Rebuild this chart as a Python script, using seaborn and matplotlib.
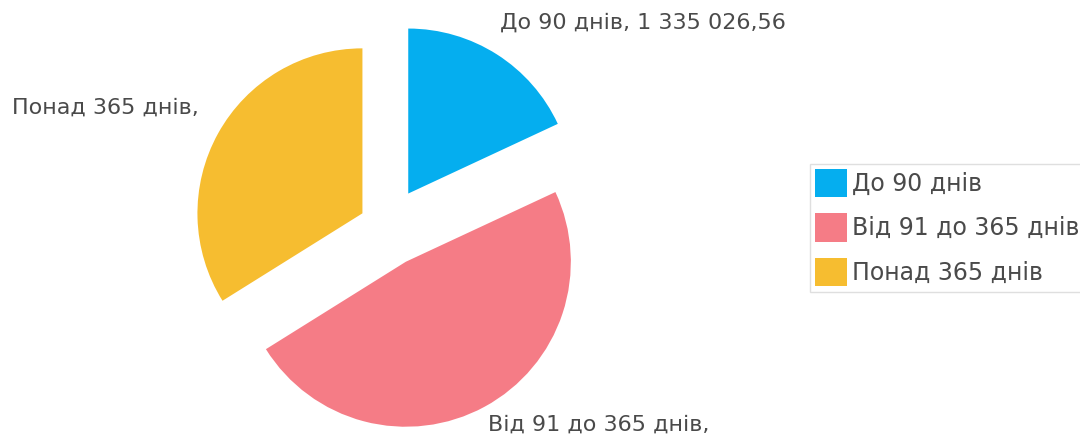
import numpy as np
import pandas as pd
import matplotlib
matplotlib.use("Agg")
import matplotlib.pyplot as plt
import seaborn as sb

# dados (só o primeiro aparece escrito)
categorias = ["До 90 днів", "Від 91 до 365 днів", "Понад 365 днів"]
valores = [1335026.56, 3552000.0, 2505000.0]
cores = ["#05AEEF", "#F57C86", "#F6BD30"]

sb.set_theme(style="white")
plt.rcParams['font.family'] = ['DejaVu Sans']

df = pd.DataFrame({'categoria': categorias, 'valor': valores})


def fmt(v):
    inteiro, dec = f"{v:,.2f}".split(".")
    return inteiro.replace(",", " ") + "," + dec


fig = plt.figure(figsize=(10.8, 4.41), dpi=100)
ax = fig.add_axes([0.1597, -0.001, 0.3972, 0.9728])

wedges, _ = ax.pie(df['valor'], colors=sb.color_palette(cores),
                   startangle=90, counterclock=False,
                   explode=[0.24, 0.24, 0.17],
                   wedgeprops=dict(linewidth=0))
ax.set_xlim(-1.3, 1.3)
ax.set_ylim(-1.3, 1.3)
ax.set_aspect('equal')
ax.axis('off')

cor_texto = "#4a4a4a"
# rótulos das fatias
fig.text(0.463, 0.948, f"{categorias[0]}, {fmt(valores[0])}",
         fontsize=16, color=cor_texto, va='center', ha='left')
fig.text(0.011, 0.757, f"{categorias[2]},",
         fontsize=16, color=cor_texto, va='center', ha='left')
fig.text(0.452, 0.036, f"{categorias[1]},",
         fontsize=16, color=cor_texto, va='center', ha='left')

leg = fig.legend(wedges, categorias, loc='center left',
                 bbox_to_anchor=(0.75, 0.484), fontsize=17,
                 handlelength=1.35, handleheight=1.48, handletextpad=0.22,
                 labelspacing=0.68, borderpad=0.22, borderaxespad=0,
                 frameon=True, fancybox=False, labelcolor=cor_texto)
leg.get_frame().set_edgecolor("#d8d8d8")
leg.get_frame().set_linewidth(1.0)

fig.savefig("out.png", dpi=100)
